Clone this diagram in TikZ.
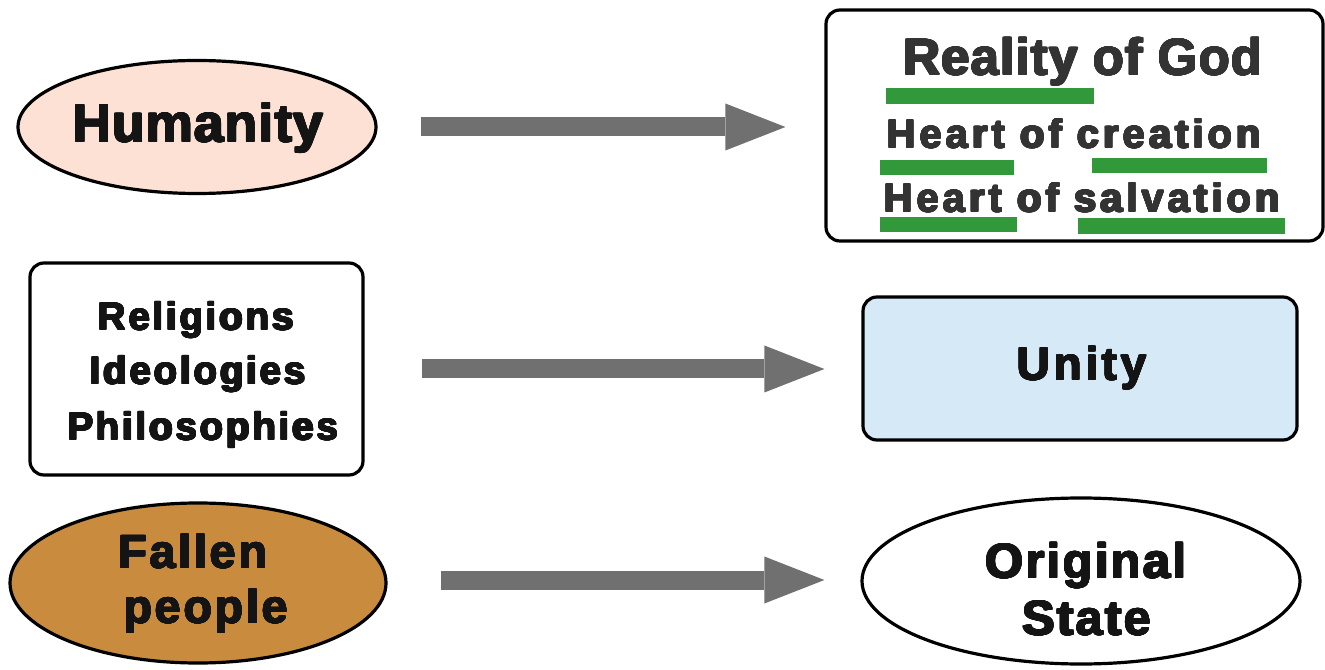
\documentclass[tikz,border=0pt]{standalone}
\usepackage{fontspec}
\setmainfont{Liberation Sans}
\newfontfamily\heavy{Liberation Sans Bold}
\usepackage[copies]{contour}
\contourlength{0.55pt}
\contournumber{16}
\usetikzlibrary{shapes.geometric,arrows.meta,calc}
\definecolor{pinkfill}{HTML}{FCE1D4}
\definecolor{bluefill}{HTML}{D5EAF6}
\definecolor{brownfill}{HTML}{C98C3F}
\definecolor{barGreen}{HTML}{31993A}
\definecolor{arrowGray}{HTML}{707070}
\definecolor{darkText}{HTML}{333333}
\definecolor{blackText}{HTML}{141414}
\newcommand{\pxu}{0.75pt}
\newcommand{\myfs}[2]{\heavy\fontsize{#1}{#1}\selectfont\addfontfeature{LetterSpace=#2}}
\newcommand{\blk}[1]{\contour{blackText}{#1}}
\newcommand{\drk}[1]{\contour{darkText}{#1}}
\begin{document}
\begin{tikzpicture}[x=0.75pt,y=-0.75pt,
  outl/.style={draw=black, line width=3.2*\pxu},
  ovalnode/.style={outl, ellipse, inner sep=0pt},
  boxnode/.style={outl, rectangle, rounded corners=14*\pxu, inner sep=0pt},
  txt/.style={inner sep=0pt, anchor=base, text=blackText},
  bigarrow/.style={draw=arrowGray, line width=19*\pxu,
    -{Triangle[length=60*\pxu, width=47*\pxu, line width=0pt]}},
  greenbar/.style={fill=barGreen}]
\useasboundingbox (0,0) rectangle (1325,670);

% left column
\node[ovalnode, fill=pinkfill, minimum width=358*\pxu, minimum height=133*\pxu] (hum) at (197,127) {};
\node[txt, font={\myfs{40}{2}}] (humt) at (198,142) {\blk{Humanity}};

\node[boxnode, fill=white, minimum width=333*\pxu, minimum height=212*\pxu] (rel) at (196.5,369) {};
\node[txt, font={\myfs{29}{7}}] (rel1) at (196,330) {\blk{Religions}};
\node[txt, font={\myfs{29}{7}}] (rel2) at (198,384) {\blk{Ideologies}};
\node[txt, font={\myfs{29}{7}}] (rel3) at (203,440) {\blk{Philosophies}};

\node[ovalnode, fill=brownfill, minimum width=376*\pxu, minimum height=160*\pxu] (fall) at (198,583) {};
\node[txt, font={\myfs{35}{6}}] (fall1) at (193,568) {\blk{Fallen}};
\node[txt, font={\myfs{35}{6}}] (fall2) at (206,623) {\blk{people}};

% right column
\node[boxnode, fill=white, minimum width=497*\pxu, minimum height=231*\pxu] (top) at (1074.5,125.5) {};
\node[txt, text=darkText, font={\myfs{38.5}{2}}] (topt1) at (1083,75) {\drk{Reality of God}};
\node[txt, text=darkText, font={\myfs{30}{10}}] (topt2) at (1074,148) {\drk{Heart of creation}};
\node[txt, text=darkText, font={\myfs{30}{10}}] (topt3) at (1082,212) {\drk{Heart of salvation}};
\fill[greenbar] (886,88) rectangle (1094,104);
\fill[greenbar] (880,160) rectangle (1014,175);
\fill[greenbar] (1092,158) rectangle (1267,173);
\fill[greenbar] (880,217) rectangle (1017,232);
\fill[greenbar] (1078,218) rectangle (1285,234);

\node[boxnode, fill=bluefill, minimum width=434*\pxu, minimum height=143*\pxu] (uni) at (1080,368.5) {};
\node[txt, font={\myfs{34.5}{8}}] (unit) at (1082,380) {\blk{Unity}};

\node[ovalnode, fill=white, minimum width=438*\pxu, minimum height=166*\pxu] (orig) at (1081,581) {};
\node[txt, font={\myfs{36.5}{5}}] (orig1) at (1086,578) {\blk{Original}};
\node[txt, font={\myfs{36.5}{5}}] (orig2) at (1087,635) {\blk{State}};

% arrows
\draw[bigarrow] ($(hum.east)+(43,0)$) -- ($(hum.east -| top.west)+(-39,0)$);
\draw[bigarrow] ($(rel.east)+(57,0)$) -- ($(rel.east -| uni.west)+(-37,0)$);
\draw[bigarrow] ($(fall.east)+(53,-3)$) -- ($(fall.east -| orig.west)+(-36,-3)$);
\end{tikzpicture}
\end{document}
